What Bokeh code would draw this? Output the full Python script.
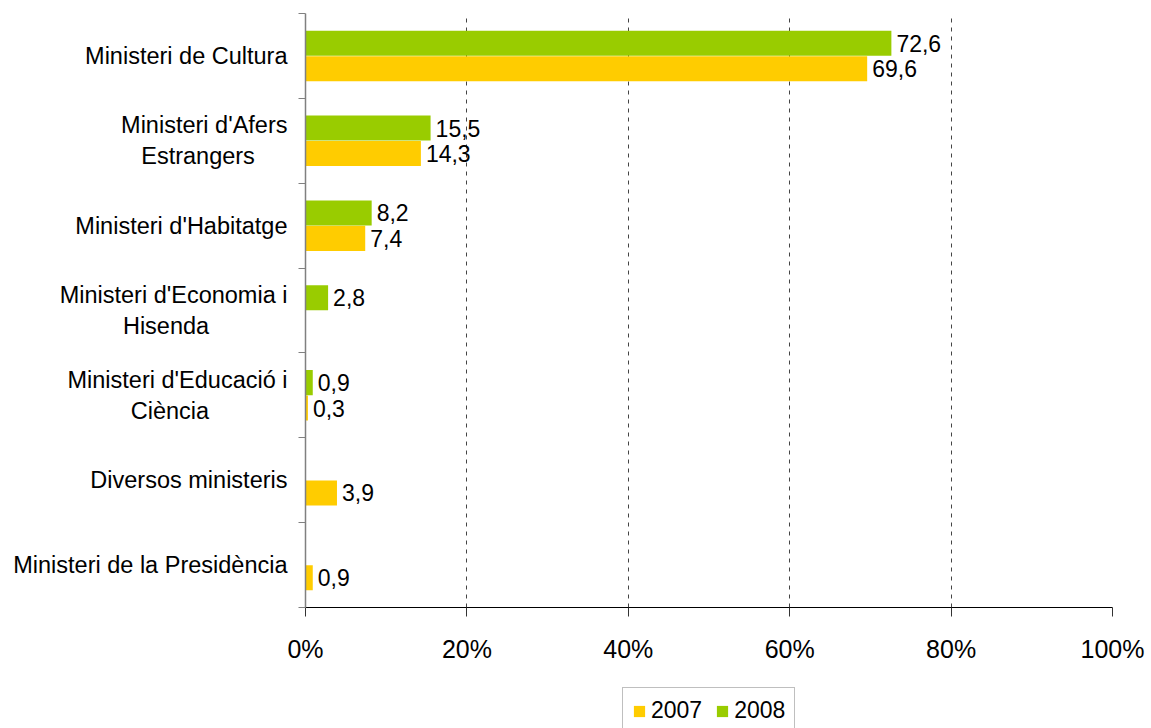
from bokeh.plotting import figure
from bokeh.layouts import column
from bokeh.models import (Range1d, FixedTicker, PrintfTickFormatter, ColumnDataSource,
                          Legend, LegendItem)
from bokeh.core.properties import value
from bokeh.embed import file_html
from bokeh.resources import INLINE

categories = ["Ministeri de Cultura", "Ministeri d'Afers\nEstrangers", "Ministeri d'Habitatge",
              "Ministeri d'Economia i\nHisenda", "Ministeri d'Educació i\nCiència",
              "Diversos ministeris", "Ministeri de la Presidència"]
v2007 = [69.6, 14.3, 7.4, None, 0.3, 3.9, 0.9]
v2008 = [72.6, 15.5, 8.2, 2.8, 0.9, None, None]
x_ticks = [0, 20, 40, 60, 80, 100]
series_names = ["2007", "2008"]

YELLOW = "#FFCC00"
GREEN = "#99CC00"
FONT = "Liberation Sans"

# trailing non-breaking spaces to visually centre the second line of wrapped labels
second_line_pad = {1: 5, 3: 12, 4: 12}

def tick_label(i, text):
    if "\n" in text:
        return text + "\u00a0" * second_line_pad.get(i, 0)
    return text

n = len(categories)
centers = [n - i - 0.5 for i in range(n)]

p = figure(width=1151, height=686, output_backend="svg", toolbar_location=None,
           x_range=Range1d(0, 100), y_range=Range1d(0, n),
           min_border_left=305, min_border_right=39, min_border_top=13, min_border_bottom=79)
p.outline_line_color = None
p.background_fill_color = "white"
p.border_fill_color = "white"

def series(vals, off):
    xs, ys, lab = [], [], []
    for c, v in zip(centers, vals):
        if v is None:
            continue
        xs.append(v)
        ys.append(c + off)
        lab.append(f"{v:.1f}".replace(".", ","))
    return ColumnDataSource(dict(x=xs, y=ys, label=lab))

s07 = series(v2007, -0.15)
s08 = series(v2008, 0.15)
bh = 0.295
p.hbar(y="y", right="x", left=0, height=bh, source=s07, fill_color=YELLOW, line_color=None)
p.hbar(y="y", right="x", left=0, height=bh, source=s08, fill_color=GREEN, line_color=None)
for s in (s07, s08):
    p.text(x="x", y="y", text="label", source=s, x_offset=5, text_baseline="middle",
           text_align="left", text_font=value(FONT), text_font_size="23px", text_color="black")

# x axis
p.xaxis.ticker = FixedTicker(ticks=x_ticks)
p.xaxis.formatter = PrintfTickFormatter(format="%d%%")
p.xaxis.major_label_text_font = FONT
p.xaxis.major_label_text_font_size = "25px"
p.xaxis.major_label_text_color = "black"
p.xaxis.major_label_standoff = 18
p.xaxis.major_tick_out = 9
p.xaxis.major_tick_in = 0
p.xaxis.minor_tick_line_color = None
p.xaxis.axis_line_color = "black"
p.xaxis.major_tick_line_color = "#333333"

# y axis
p.yaxis.ticker = FixedTicker(ticks=centers, minor_ticks=list(range(n + 1)))
p.yaxis.major_label_overrides = {c: tick_label(i, lab) for i, (c, lab) in enumerate(zip(centers, categories))}
p.yaxis.major_tick_line_color = None
p.yaxis.major_tick_out = 0
p.yaxis.minor_tick_out = 7
p.yaxis.minor_tick_in = 0
p.yaxis.minor_tick_line_color = "#808080"
p.yaxis.axis_line_color = "#808080"
p.yaxis.axis_line_width = 1.5
p.yaxis.major_label_text_font = FONT
p.yaxis.major_label_text_font_size = "23.5px"
p.yaxis.major_label_text_color = "black"
p.yaxis.major_label_standoff = 11

p.ygrid.grid_line_color = None
p.xgrid.ticker = FixedTicker(ticks=[20, 40, 60, 80, 100])
p.xgrid.grid_line_color = "#444444"
p.xgrid.grid_line_dash = "4 5"
p.xgrid.grid_line_width = 1

# legend strip below the chart (its frame is aligned with the chart's frame)
lf = figure(width=1151, height=42, output_backend="svg", toolbar_location=None,
            x_range=Range1d(0, 1), y_range=Range1d(0, 1),
            x_axis_location=None, y_axis_location=None,
            min_border_left=305, min_border_right=39, min_border_top=0, min_border_bottom=0)
lf.outline_line_color = None
lf.xgrid.visible = False
lf.ygrid.visible = False
# legend-only renderers with zero-width bars (nothing visible in the strip)
g07 = lf.hbar(y=[0.5], right=[0], left=0, height=0.1, fill_color=YELLOW, line_color=None)
g08 = lf.hbar(y=[0.5], right=[0], left=0, height=0.1, fill_color=GREEN, line_color=None)
legend = Legend(items=[LegendItem(label=series_names[0], renderers=[g07]),
                       LegendItem(label=series_names[1], renderers=[g08])],
                orientation="horizontal", location=(317, -6),
                label_text_font=FONT, label_text_font_size="23px", label_text_color="black",
                glyph_width=14, glyph_height=14, label_standoff=5, spacing=13,
                padding=9, margin=0, border_line_color="#808080", border_line_width=1.5,
                background_fill_color="white")
lf.add_layout(legend, "center")

layout = column(p, lf, spacing=0)
open("out.html", "w").write(file_html(layout, INLINE))
